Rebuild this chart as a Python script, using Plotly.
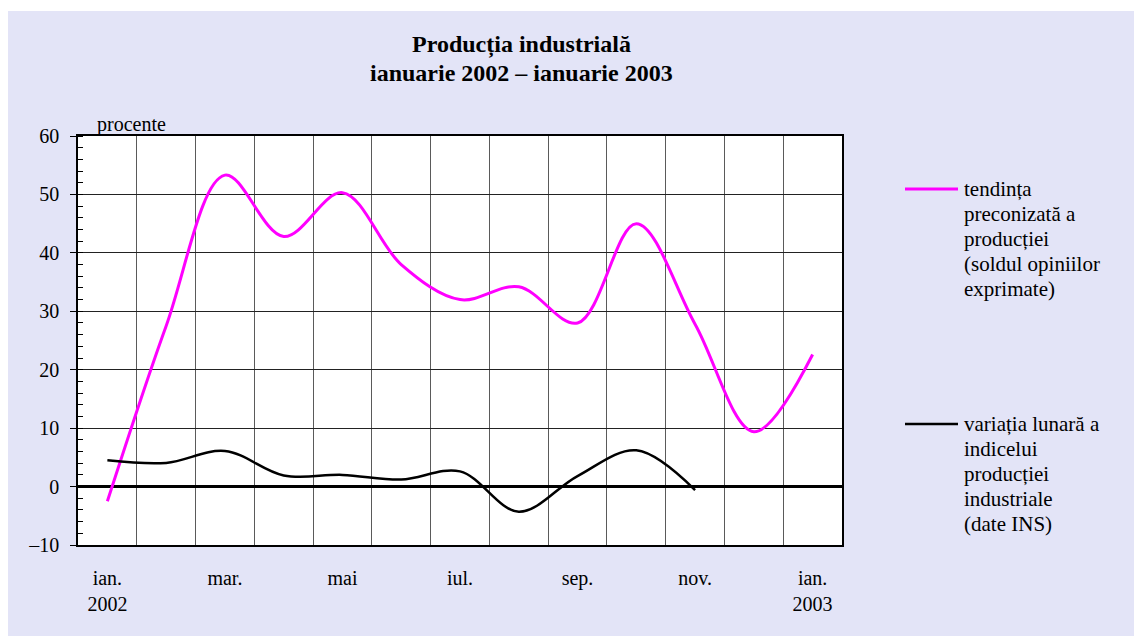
import plotly.graph_objects as go

# ---- data ----
months = ["ian. 2002", "feb.", "mar.", "apr.", "mai", "iun.", "iul.", "aug.",
          "sep.", "oct.", "nov.", "dec.", "ian. 2003"]
tendinta = [-2.5, 27.5, 53.3, 42.8, 50.3, 38.0, 32.0, 34.2, 28.0, 45.0, 27.8, 9.4, 22.6]
variatia = [4.5, 4.05, 6.1, 1.9, 2.0, 1.2, 2.6, -4.3, 1.8, 6.2, -0.6]
tick_idx = [0, 2, 4, 6, 8, 10, 12]
tick_text = ["ian.<br>2002", "mar.", "mai", "iul.", "sep.", "nov.", "ian.<br>2003"]
y_ticks = [-10, 0, 10, 20, 30, 40, 50, 60]
y_ticktext = ["–10", "0", "10", "20", "30", "40", "50", "60"]

title_lines = ["Producția industrială", "ianuarie 2002 – ianuarie 2003"]
name1_lines = ["tendința", "preconizată a", "producției", "(soldul opiniilor", "exprimate)"]
name2_lines = ["variația lunară a", "indicelui", "producției", "industriale", "(date INS)"]

# ---- layout geometry (reference pixels; page body adds an 8px offset) ----
OFF = 8
W, H = 1142 - OFF, 636 - OFF
L, R, T, B = 78, 842, 136, 545
FONT = "Liberation Serif, Times New Roman, serif"


def px(x):
    return (x - L) / (R - L)


def py(y):
    return (B - y) / (B - T)


x_all = list(range(len(months)))

fig = go.Figure()
fig.add_trace(go.Scatter(x=x_all, y=tendinta, mode="lines", name="tendinta",
                         line=dict(color="#ff00ff", width=3, shape="spline", smoothing=1.0),
                         showlegend=False))
fig.add_trace(go.Scatter(x=x_all[:len(variatia)], y=variatia, mode="lines", name="variatia",
                         line=dict(color="black", width=2.5, shape="spline", smoothing=1.0),
                         showlegend=False))

shapes = [
    dict(type="rect", xref="paper", yref="paper", x0=px(8), x1=px(1150), y0=py(11), y1=py(645),
         fillcolor="#e3e4f7", line=dict(width=0), layer="below"),
    dict(type="rect", xref="paper", yref="paper", x0=0, x1=1, y0=0, y1=1,
         fillcolor="white", line=dict(width=0), layer="below"),
    dict(type="line", xref="paper", yref="paper", x0=px(905), x1=px(958), y0=py(189), y1=py(189),
         line=dict(color="#ff00ff", width=3), layer="above"),
    dict(type="line", xref="paper", yref="paper", x0=px(905), x1=px(958), y0=py(424), y1=py(424),
         line=dict(color="black", width=2.5), layer="above"),
]

annotations = []
for i, t in enumerate(title_lines):
    annotations.append(dict(text="<b>" + t + "</b>", xref="paper", yref="paper",
                            x=px(521), y=py(45 + 28 * i), xanchor="center", yanchor="middle",
                            showarrow=False, font=dict(family=FONT, size=24, color="black")))
annotations.append(dict(text="procente", xref="paper", yref="paper", x=px(95), y=py(124),
                        xanchor="left", yanchor="middle", showarrow=False,
                        font=dict(family=FONT, size=20, color="black")))
for i, t in enumerate(name1_lines):
    annotations.append(dict(text=t, xref="paper", yref="paper", x=px(962), y=py(189 + 25 * i),
                            xanchor="left", yanchor="middle", showarrow=False,
                            font=dict(family=FONT, size=21, color="black")))
for i, t in enumerate(name2_lines):
    annotations.append(dict(text=t, xref="paper", yref="paper", x=px(962), y=py(424 + 25 * i),
                            xanchor="left", yanchor="middle", showarrow=False,
                            font=dict(family=FONT, size=21, color="black")))

fig.update_layout(
    width=W, height=H,
    margin=dict(l=L - OFF, r=W - (R - OFF), t=T - OFF, b=H - (B - OFF), pad=0),
    paper_bgcolor="white", plot_bgcolor="white",
    font=dict(family=FONT, size=20, color="black"),
    shapes=shapes, annotations=annotations,
    xaxis=dict(range=[-0.5, 12.5], tickvals=tick_idx, ticktext=tick_text, ticks="",
               showgrid=False, zeroline=False, showline=True, mirror=True,
               linecolor="black", linewidth=1.5, ticklabelstandoff=14,
               tickfont=dict(family=FONT, size=20),
               minor=dict(tickvals=[i + 0.5 for i in range(12)], showgrid=True,
                          gridcolor="#5a5a5a", gridwidth=1.4, ticks="")),
    yaxis=dict(range=[-10, 60], tickvals=y_ticks, ticktext=y_ticktext, ticks="outside",
               ticklen=6, tickcolor="black", tickwidth=1,
               showgrid=True, gridcolor="#222222", gridwidth=1,
               zeroline=True, zerolinecolor="black", zerolinewidth=3,
               showline=True, mirror=True, linecolor="black", linewidth=1.5,
               ticklabelstandoff=7, tickfont=dict(family=FONT, size=20),
               minor=dict(dtick=2, ticks="inside", ticklen=5, tickcolor="black",
                          tickwidth=1, showgrid=False)),
)

fig.write_html("out.html")
